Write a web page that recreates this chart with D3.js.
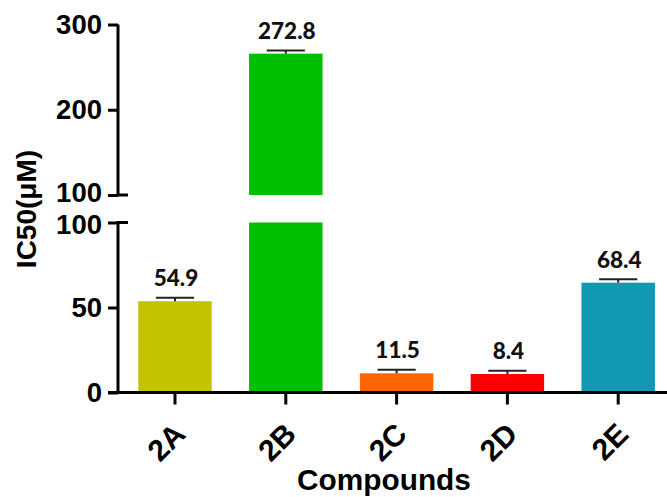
<!DOCTYPE html>
<html>
<head>
<meta charset="utf-8">
<script src="https://cdn.jsdelivr.net/npm/d3@7/dist/d3.min.js"></script>
<style>
  html, body { margin: 0; padding: 0; background: #fff; }
  svg { display: block; }
</style>
</head>
<body>
<svg id="chart" width="667" height="497"></svg>
<script>
// ---- data ----
const categories = ["2A", "2B", "2C", "2D", "2E"];
const barValues = [53.7, 265.8, 11.3, 10.9, 64.6];
const errValues = [2.1, 3.7, 2.1, 1.9, 2.0];
const valueLabels = ["54.9", "272.8", "11.5", "8.4", "68.4"];
const barColors = ["#c3c300", "#00bf00", "#ff6600", "#ff0000", "#1298b3"];
const lowerTicks = [0, 50, 100];
const upperTicks = [100, 200, 300];
const breakValue = 100;

// ---- layout ----
const svg = d3.select("#chart");
const axisX = 118;
const x = d3.scaleBand()
  .domain(categories)
  .range([119.6, 673.6])
  .paddingInner(0.337)
  .paddingOuter(0.1685);

const yLow = d3.scaleLinear().domain([0, 100]).range([392.5, 222.5]);
const yUp = d3.scaleLinear().domain([100, 300]).range([195, 24.5]);
const yOf = v => (v > breakValue ? yUp(v) : yLow(v));

const tickFont = "'Liberation Sans', Arial, sans-serif";
const labelFont = "Lato, 'Open Sans', sans-serif";

// ---- bars ----
const g = svg.append("g");
categories.forEach((c, i) => {
  const v = barValues[i];
  const x0 = x(c), w = x.bandwidth();
  if (v > breakValue) {
    g.append("rect").attr("x", x0).attr("width", w)
      .attr("y", yLow(breakValue)).attr("height", yLow(0) - yLow(breakValue))
      .attr("fill", barColors[i]);
    g.append("rect").attr("x", x0).attr("width", w)
      .attr("y", yUp(v)).attr("height", yUp(breakValue) - yUp(v))
      .attr("fill", barColors[i]);
  } else {
    g.append("rect").attr("x", x0).attr("width", w)
      .attr("y", yLow(v)).attr("height", yLow(0) - yLow(v))
      .attr("fill", barColors[i]);
  }
  // error bar (upper whisker)
  const cx = x0 + w / 2;
  const yTop = yOf(v + errValues[i]);
  g.append("line").attr("x1", cx).attr("x2", cx)
    .attr("y1", yOf(v)).attr("y2", yTop)
    .attr("stroke", "#222").attr("stroke-width", 2);
  g.append("line").attr("x1", cx - w * 0.26).attr("x2", cx + w * 0.26)
    .attr("y1", yTop).attr("y2", yTop)
    .attr("stroke", "#222").attr("stroke-width", 2);
  // value label
  g.append("text").attr("x", cx + 1).attr("y", yTop - 11.5)
    .attr("text-anchor", "middle")
    .attr("font-family", labelFont).attr("font-weight", "900")
    .attr("font-size", 22.5).attr("fill", "#111")
    .text(valueLabels[i]);
});

// ---- y axes ----
function styleAxis(sel) {
  sel.selectAll("path, line").attr("stroke", "#000").attr("stroke-width", 3);
  sel.selectAll("text").attr("font-family", tickFont).attr("font-weight", "bold")
    .attr("font-size", 27.5).attr("fill", "#000");
}
const axUp = svg.append("g").attr("transform", `translate(${axisX},0)`)
  .call(d3.axisLeft(yUp).tickValues(upperTicks).tickSize(10).tickSizeOuter(0).tickPadding(6));
styleAxis(axUp);
axUp.select(".domain").attr("d", `M0,${yUp(300)}V${yUp(100)}`);
axUp.selectAll(".tick text").filter(d => d === breakValue).attr("y", -2.5);
const axLow = svg.append("g").attr("transform", `translate(${axisX},0)`)
  .call(d3.axisLeft(yLow).tickValues(lowerTicks).tickSize(10).tickSizeOuter(0).tickPadding(6));
styleAxis(axLow);
axLow.select(".domain").attr("d", `M0,${yLow(100)}V${yLow(0)}`);
axLow.selectAll(".tick text").filter(d => d === breakValue).attr("y", 2.5);
// break ticks extend to the right as well
[yUp(breakValue), yLow(breakValue)].forEach(yy => {
  svg.append("line").attr("x1", axisX - 1.5).attr("x2", axisX + 10)
    .attr("y1", yy).attr("y2", yy).attr("stroke", "#000").attr("stroke-width", 3);
});

// ---- x axis ----
const axB = svg.append("g").attr("transform", `translate(0,${yLow(0)})`)
  .call(d3.axisBottom(x).tickSize(12).tickSizeOuter(0));
axB.selectAll("path, line").attr("stroke", "#000").attr("stroke-width", 3);
axB.select(".domain").attr("d", `M${axisX - 10},0H${x.range()[1]}`);
axB.selectAll("text")
  .attr("font-family", tickFont).attr("font-weight", "bold").attr("font-size", 30)
  .attr("fill", "#000")
  .attr("text-anchor", "end")
  .attr("dy", 0)
  .attr("y", 0)
  .attr("transform", d => `translate(12,${436 - yLow(0)}) rotate(-45)`);

// ---- axis titles ----
svg.append("text")
  .attr("transform", `translate(36,209) rotate(-90)`)
  .attr("text-anchor", "middle")
  .attr("font-family", tickFont).attr("font-weight", "bold").attr("font-size", 28)
  .text("IC50(μM)");
svg.append("text")
  .attr("x", 384).attr("y", 490)
  .attr("text-anchor", "middle")
  .attr("font-family", tickFont).attr("font-weight", "bold").attr("font-size", 29.8)
  .text("Compounds");
</script>
</body>
</html>
